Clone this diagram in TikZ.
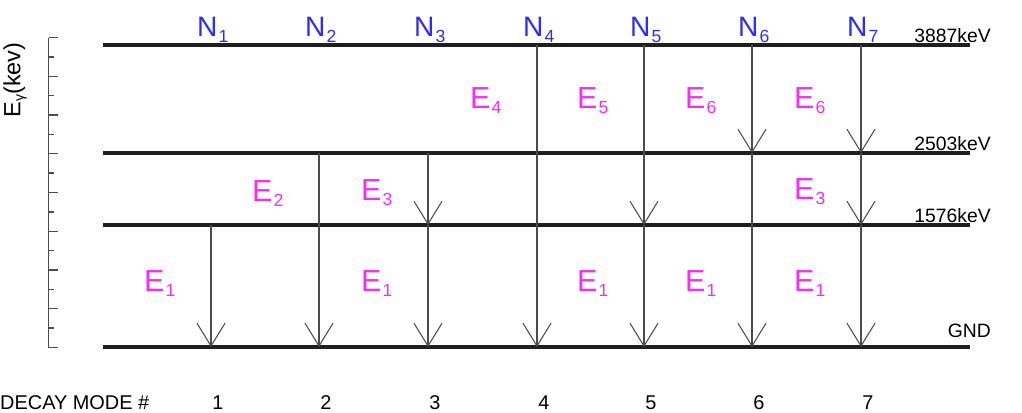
\documentclass[tikz,border=0pt]{standalone}
\usepackage{fontspec}
\setmainfont{Liberation Sans}
\usetikzlibrary{arrows.meta}
\definecolor{nblue}{RGB}{45,45,245}
\definecolor{emag}{RGB}{245,45,245}
\newcommand{\withidx}[2]{#1\kern1pt\raisebox{-5pt}{\fontsize{15}{15}\selectfont #2}}

\tikzset{
  level/.style={line width=3pt, black!88},
  decay/.style={line width=0.9pt, black!70, -{Straight Barb[length=19.5pt,width=24pt]}},
  tick/.style={line width=1.1pt, black!70},
  lvltext/.style={anchor=base east, inner sep=0pt, font=\fontsize{16.5}{16.5}\selectfont},
  nlbl/.style={anchor=base west, inner sep=0pt, text=nblue, font=\fontsize{24}{24}\selectfont},
  elbl/.style={anchor=base west, inner sep=0pt, text=emag, font=\fontsize{26}{26}\selectfont},
  modenum/.style={anchor=base, inner sep=0pt, font=\fontsize{17}{17}\selectfont},
}

\begin{document}
\begin{tikzpicture}[x=0.03cm, y=-0.03cm]
    \useasboundingbox (0,0) rectangle (1022,412);
    \draw[tick] (48.5,37.5) -- (48.5,347.5);
    \foreach \k in {0,2,...,16} \draw[tick] (48.5,37.5+19.375*\k) -- ++(9.5,0);
    \foreach \k in {1,3,...,15} \draw[tick] (48.5,37.5+19.375*\k) -- ++(5.5,0);
    \node[rotate=90, inner sep=0pt, font=\fontsize{20}{20}\selectfont] (ylbl) at (15,80) {E\raisebox{-3pt}{\fontsize{12}{12}\selectfont γ}(kev)};
    \foreach \n/\y/\t/\ty in {A/45/3887keV/42.5, B/153/2503keV/150.5, C/225/1576keV/222.5, G/347/GND/337} {
        \coordinate (\n-l) at (103,\y);
        \coordinate (\n-r) at (970,\y);
        \draw[level] (\n-l) -- (\n-r);
        \node[lvltext] (\n-t) at (991,\ty) {\t};
    }
    \foreach \m/\x in {1/211,2/319,3/428,4/537,5/644,6/752,7/861} {
        \coordinate (A\m) at (\x,45);
        \coordinate (B\m) at (\x,153);
        \coordinate (C\m) at (\x,225);
        \coordinate (G\m) at (\x,347);
        \node[nlbl] (N\m) at (\x-14,36.5) {\withidx{N}{\m}};
        \node[modenum] (M\m) at (\x+7,409) {\m};
    }
    \node[anchor=base west, inner sep=0pt, font=\fontsize{17}{17}\selectfont] (mode) at (0,409) {DECAY MODE \#};
    \draw[decay] (C1) -- (G1);
    \draw[decay] (B2) -- (G2);
    \draw[decay] (B3) -- (C3);
    \draw[decay] (C3) -- (G3);
    \draw[decay] (A4) -- (G4);
    \draw[decay] (A5) -- (C5);
    \draw[decay] (C5) -- (G5);
    \draw[decay] (A6) -- (B6);
    \draw[decay] (B6) -- (G6);
    \draw[decay] (A7) -- (B7);
    \draw[decay] (B7) -- (C7);
    \draw[decay] (C7) -- (G7);
    \foreach \m/\i/\x/\y in {1/1/144/291, 2/2/252/201, 3/3/361/200, 3/1/361/291, 4/4/470/108, 5/5/577/108, 5/1/577/291,
                             6/6/685/108, 6/1/685/291, 7/6/794/108, 7/3/794/199, 7/1/794/291}
        \node[elbl] (E\m\i) at (\x,\y) {\withidx{E}{\i}};
\end{tikzpicture}
\end{document}
